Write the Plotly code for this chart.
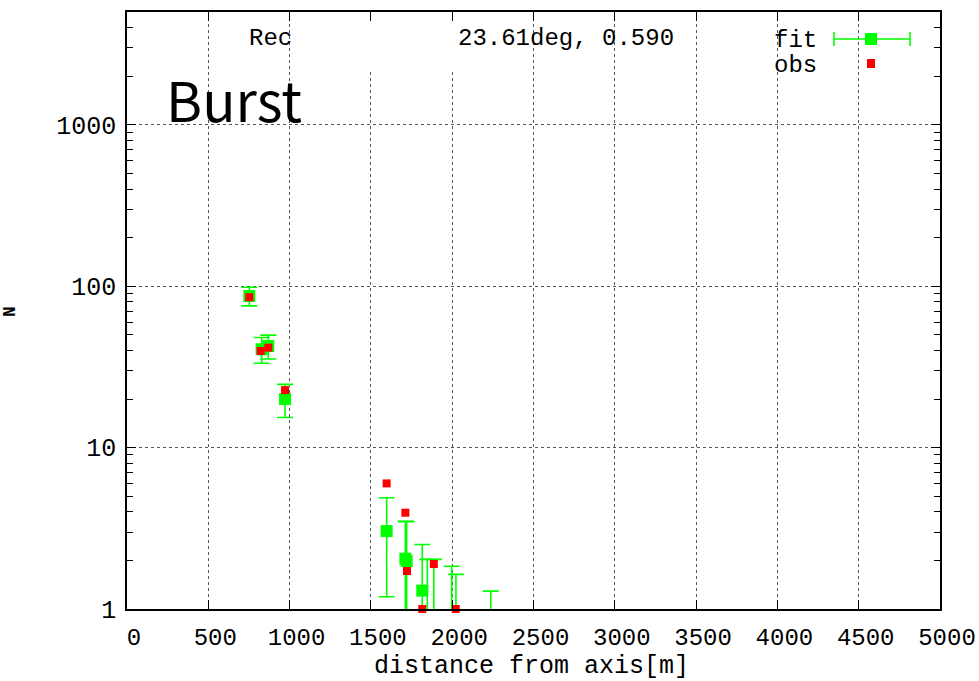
import plotly.graph_objects as go

# ---- data ----
fit_x = [752, 828, 869, 972, 1597, 1712, 1720, 1816, 1847, 1887, 1997, 2023, 2237]
fit_y = [87.0, 40.7, 42.6, 20.0, 3.04, 2.05, 1.98, 1.30, 0.90, 0.90, 0.80, 0.70, 0.50]
fit_err = [11.5, 7.4, 7.2, 4.65, 1.85, 1.45, 1.50, 1.21, 1.13, 1.13, 1.04, 0.94, 0.79]

obs_x = [752, 822, 869, 972, 1597, 1712, 1722, 1816, 1887, 2022]
obs_y = [85.5, 39.7, 41.6, 22.7, 6.0, 3.95, 1.72, 1.0, 1.9, 1.0]

x_ticks = [0, 500, 1000, 1500, 2000, 2500, 3000, 3500, 4000, 4500, 5000]
y_ticks = [1, 10, 100, 1000]

GREEN = "#00ff00"
RED = "#ff0000"
MONO = "Liberation Mono"

# lower error limited so it stays positive on a log axis
fit_err_minus = [min(e, v * 0.99) for e, v in zip(fit_err, fit_y)]

fig = go.Figure()
fig.add_trace(go.Scatter(
    x=fit_x, y=fit_y, mode="markers", name="fit",
    marker=dict(symbol="square", size=12, color=GREEN, line=dict(width=0)),
    error_y=dict(type="data", array=fit_err, arrayminus=fit_err_minus,
                 color=GREEN, thickness=1.6, width=8, symmetric=False),
    cliponaxis=True, showlegend=False,
))
fig.add_trace(go.Scatter(
    x=obs_x, y=obs_y, mode="markers", name="obs",
    marker=dict(symbol="square", size=8, color=RED, line=dict(width=0)),
    cliponaxis=False, showlegend=False,
))

L, R, T, B = 127, 940, 12, 609
W, H = R - L, B - T


def px(xp):
    return (xp - L) / W


def py(yp):
    return (B - yp) / H


axis_common = dict(
    showline=True, linecolor="black", linewidth=1.5, mirror="allticks",
    ticks="inside", tickcolor="black", tickwidth=1, ticklen=9,
    showgrid=True, gridcolor="#555555", griddash="dot", gridwidth=1,
    zeroline=False, automargin=False,
)

fig.update_xaxes(
    range=[0, 5000], tickvals=x_ticks, ticktext=[str(v) for v in x_ticks],
    ticklabelstandoff=5, ticklabelshift=7,
    tickfont=dict(family=MONO, size=24, color="black"),
    **axis_common,
)
fig.update_yaxes(
    type="log", range=[0, 3.699], tickvals=y_ticks, ticktext=[str(v) for v in y_ticks],
    minor=dict(ticks="inside", ticklen=6, tickcolor="black", showgrid=False,
               tickvals=[2, 3, 4, 5, 6, 7, 8, 9, 20, 30, 40, 50, 60, 70, 80, 90,
                         200, 300, 400, 500, 600, 700, 800, 900, 2000, 3000, 4000, 5000]),
    ticklabelstandoff=4,
    tickfont=dict(family=MONO, size=25, color="black"),
    **axis_common,
)

shapes = [
    # white mask over part of the title
    dict(type="rect", xref="paper", yref="paper", x0=px(325), x1=px(455), y0=py(72), y1=py(22),
         fillcolor="white", line=dict(width=0), layer="above"),
    # legend: fit error-bar sample
    dict(type="line", xref="paper", yref="paper", x0=px(834), x1=px(910), y0=py(39), y1=py(39),
         line=dict(color=GREEN, width=1.6), layer="above"),
    dict(type="line", xref="paper", yref="paper", x0=px(834), x1=px(834), y0=py(32), y1=py(46),
         line=dict(color=GREEN, width=1.6), layer="above"),
    dict(type="line", xref="paper", yref="paper", x0=px(910), x1=px(910), y0=py(32), y1=py(46),
         line=dict(color=GREEN, width=1.6), layer="above"),
    dict(type="rect", xref="paper", yref="paper", x0=px(865), x1=px(877), y0=py(45), y1=py(33),
         fillcolor=GREEN, line=dict(width=0), layer="above"),
    # legend: obs sample
    dict(type="rect", xref="paper", yref="paper", x0=px(867), x1=px(875), y0=py(68), y1=py(59),
         fillcolor=RED, line=dict(width=0), layer="above"),
]

annotations = [
    dict(text="Rec", xref="paper", yref="paper", x=px(247), y=py(38), xanchor="left",
         yanchor="middle", showarrow=False, font=dict(family=MONO, size=24, color="black")),
    dict(text="23.61deg, 0.590", xref="paper", yref="paper", x=px(456), y=py(38),
         xanchor="left", yanchor="middle", showarrow=False,
         font=dict(family=MONO, size=24, color="black")),
    dict(text="fit", xref="paper", yref="paper", x=px(772), y=py(40), xanchor="left",
         yanchor="middle", showarrow=False, font=dict(family=MONO, size=24, color="black")),
    dict(text="obs", xref="paper", yref="paper", x=px(772), y=py(66), xanchor="left",
         yanchor="middle", showarrow=False, font=dict(family=MONO, size=24, color="black")),
    dict(text="Burst", xref="paper", yref="paper", x=px(164), y=py(98), xanchor="left",
         yanchor="middle", showarrow=False,
         font=dict(family="Noto Sans CJK JP", size=55, color="black")),
    dict(text="distance from axis[m]", xref="paper", yref="paper", x=px(531), y=py(667),
         xanchor="center", yanchor="middle", showarrow=False,
         font=dict(family=MONO, size=25, color="black")),
    dict(text="<b>N</b>", xref="paper", yref="paper", x=px(10), y=py(312),
         xanchor="center", yanchor="middle", showarrow=False, textangle=-90,
         font=dict(family=MONO, size=18, color="black")),
]

fig.update_layout(
    width=979, height=681,
    margin=dict(l=L, r=979 - R, t=T, b=681 - B, pad=0, autoexpand=False),
    paper_bgcolor="white", plot_bgcolor="white",
    shapes=shapes, annotations=annotations,
    showlegend=False,
)

fig.write_html("out.html")
